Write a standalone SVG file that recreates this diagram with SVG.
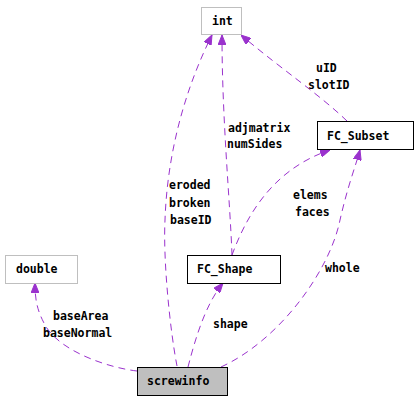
<svg xmlns="http://www.w3.org/2000/svg" width="418" height="400" viewBox="0 0 418 400">
<style>
.t{font-family:"DejaVu Sans Mono","Liberation Mono",monospace;font-size:11.5px;font-weight:bold;fill:#000}
.n{fill:#fff;stroke:#000;stroke-width:1}
.g{fill:#fff;stroke:#bfbfbf;stroke-width:1}
.e{fill:none;stroke:#9a32cd;stroke-width:1;stroke-dasharray:7,5}
</style>
<defs>
<marker id="a" viewBox="0 0 10 8" refX="10" refY="4" markerWidth="10" markerHeight="8" markerUnits="userSpaceOnUse" orient="auto">
<path d="M0,0 L10,4 L0,8 Z" fill="#9a32cd" stroke="#9a32cd"/>
</marker>
</defs>
<rect width="418" height="400" fill="#fff"/>
<g id="edges">
<path class="e" marker-end="url(#a)" d="M177,366 C170,330 163,260 165,220 C167,160 182,95 212,35"/>
<path class="e" marker-end="url(#a)" d="M232,255 C230,200 222,120 222,35"/>
<path class="e" marker-end="url(#a)" d="M347,121 C320,95 280,68 241,35"/>
<path class="e" marker-end="url(#a)" d="M232,255 C245,220 270,170 330,150"/>
<path class="e" marker-end="url(#a)" d="M221,367 C280,340 330,270 340,220 C348,185 355,168 360,150"/>
<path class="e" marker-end="url(#a)" d="M188,367 C195,340 205,305 223,283"/>
<path class="e" marker-end="url(#a)" d="M137,371 C110,368 60,352 45,325 C37,310 35,300 35,283"/>
<text class="t" x="169" y="189">eroded</text>
<text class="t" x="169" y="207">broken</text>
<text class="t" x="170" y="224">baseID</text>
<text class="t" x="228" y="132">adjmatrix</text>
<text class="t" x="227" y="148">numSides</text>
<text class="t" x="316" y="72">uID</text>
<text class="t" x="308" y="89">slotID</text>
<text class="t" x="293" y="199">elems</text>
<text class="t" x="295" y="216">faces</text>
<text class="t" x="325" y="272">whole</text>
<text class="t" x="213" y="328">shape</text>
<text class="t" x="53" y="320">baseArea</text>
<text class="t" x="43" y="337">baseNormal</text>
</g>
<g id="int"><rect class="g" x="201.5" y="7.5" width="40" height="27"/><text class="t" x="212" y="25">int</text></g>
<g id="FC_Subset"><rect class="n" x="317.5" y="121.5" width="96" height="28"/><text class="t" x="327" y="140">FC_Subset</text></g>
<g id="double"><rect class="g" x="5.5" y="255.5" width="72" height="28"/><text class="t" x="16" y="273">double</text></g>
<g id="FC_Shape"><rect class="n" x="187.5" y="255.5" width="93" height="28"/><text class="t" x="197" y="273">FC_Shape</text></g>
<g id="screwinfo"><rect x="137.5" y="367.5" width="90" height="28" fill="#bfbfbf" stroke="#000"/><text class="t" x="147" y="385">screwinfo</text></g>
</svg>
